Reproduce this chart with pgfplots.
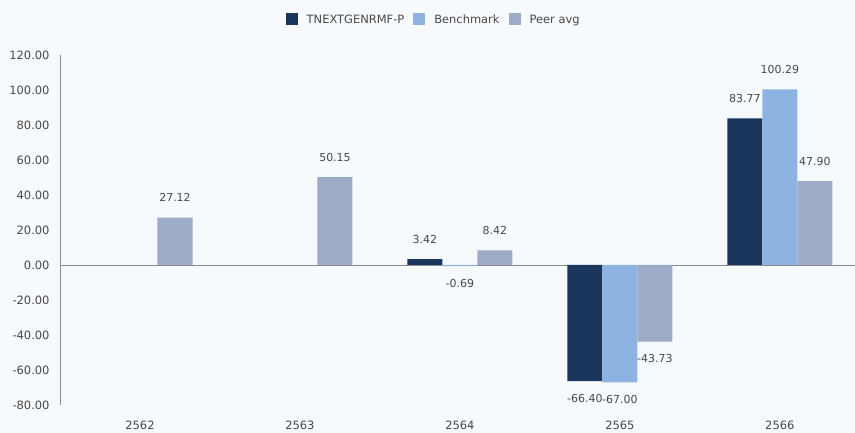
\documentclass[border=0pt]{standalone}
\usepackage{fontspec}
\setmainfont{DejaVu Sans}
\usepackage{pgfplots}
\pgfplotsset{compat=1.18}
\definecolor{bgc}{HTML}{F7FAFD}
\definecolor{cfund}{HTML}{1A365D}
\definecolor{cbench}{HTML}{8DB3E2}
\definecolor{cpeer}{HTML}{9EABC6}
\definecolor{txt}{HTML}{474747}
\definecolor{axc}{HTML}{8A8A8A}
\begin{document}
\begin{tikzpicture}
\path[use as bounding box, fill=bgc] (-60bp,-28bp) rectangle (795bp,405bp);
\begin{axis}[
  at={(0,0)}, anchor=south west,
  scale only axis, width=795bp, height=350bp,
  xmin=-0.5, xmax=4.47, ymin=-80, ymax=120,
  ybar=0pt, bar width=0.219,
  axis x line=none,
  axis y line*=left,
  axis line style={axc, -, line width=0.6pt},
  major tick length=0pt,
  ytick={-80,-60,-40,-20,0,20,40,60,80,100,120},
  yticklabel style={/pgf/number format/fixed, /pgf/number format/fixed zerofill, /pgf/number format/precision=2, /pgf/number format/assume math mode=true,
     font=\fontsize{11.5}{13}\selectfont, text=txt, xshift=-7bp},
  xtick=\empty,
  font=\fontsize{11}{13}\selectfont,
  nodes near coords,
  every node near coord/.append style={font=\fontsize{11}{13}\selectfont, text=txt,
     /pgf/number format/fixed, /pgf/number format/fixed zerofill, /pgf/number format/precision=2, /pgf/number format/assume math mode=true,
     inner ysep=14bp, inner xsep=0pt, yshift=1.5bp},
  legend columns=3,
  legend style={at={(0.47,1.1)}, anchor=center, draw=none, fill=none,
     font=\fontsize{11.5}{13}\selectfont, text=txt,
     /tikz/every odd column/.append style={column sep=7bp},
     /tikz/every even column/.append style={column sep=7bp}},
  legend image code/.code={\fill[#1, draw=none] (0bp,-5.5bp) rectangle (12bp,6.5bp);},
  clip=false,
]
\draw[axc, line width=0.6pt] (axis cs:-0.5,0) -- (axis cs:4.47,0);
\addplot[fill=cfund, draw=none] coordinates {(2,3.42) (3,-66.40) (4,83.77)};
\addplot[fill=cbench, draw=none] coordinates {(2,-0.69) (3,-67.00) (4,100.29)};
\addplot[fill=cpeer, draw=none] coordinates {(0,27.12) (1,50.15) (2,8.42) (3,-43.73) (4,47.90)};
\legend{TNEXTGENRMF-P, Benchmark, Peer avg}
\node[text=txt, font=\fontsize{11.5}{13}\selectfont, yshift=-20bp] at (axis cs:0,-80) {2562};
\node[text=txt, font=\fontsize{11.5}{13}\selectfont, yshift=-20bp] at (axis cs:1,-80) {2563};
\node[text=txt, font=\fontsize{11.5}{13}\selectfont, yshift=-20bp] at (axis cs:2,-80) {2564};
\node[text=txt, font=\fontsize{11.5}{13}\selectfont, yshift=-20bp] at (axis cs:3,-80) {2565};
\node[text=txt, font=\fontsize{11.5}{13}\selectfont, yshift=-20bp] at (axis cs:4,-80) {2566};
\end{axis}
\end{tikzpicture}
\end{document}
